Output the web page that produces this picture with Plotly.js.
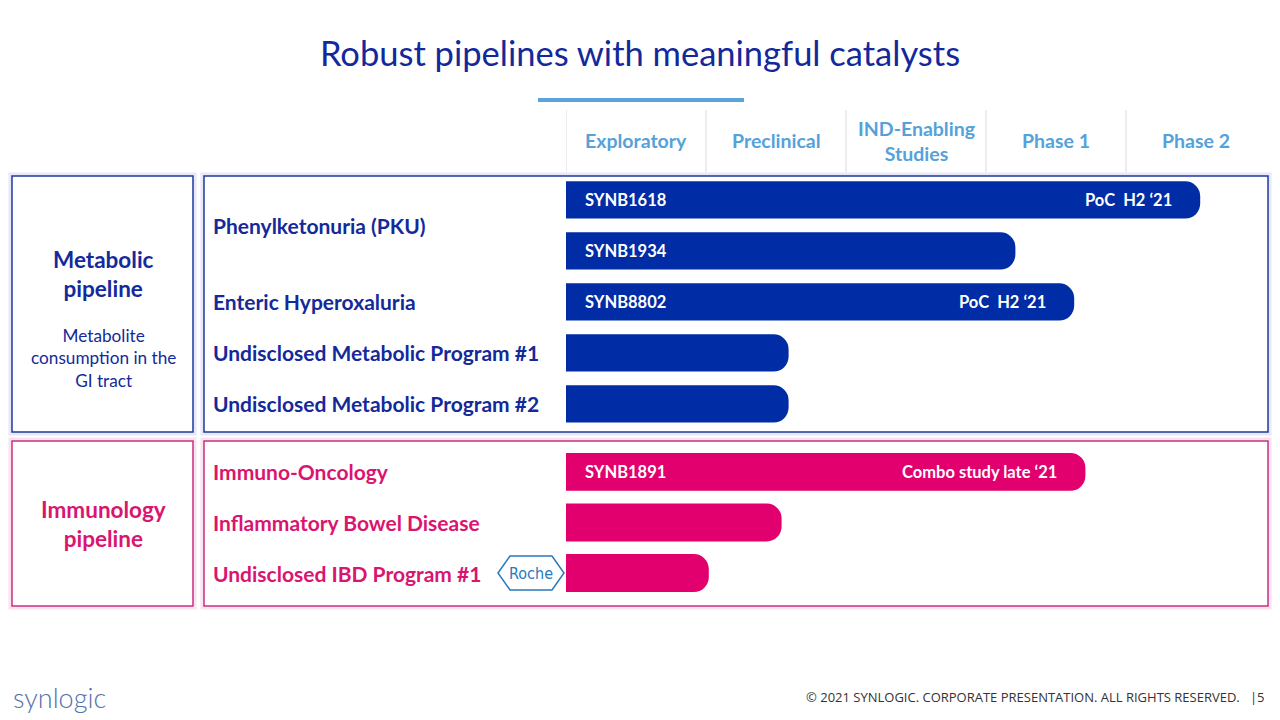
<!DOCTYPE html>
<html>
<head>
<meta charset="utf-8">
<script src="https://cdn.plot.ly/plotly-3.0.1.min.js"></script>
<style>html,body{margin:0;padding:0;background:#fff;}#chart{width:1280px;height:720px;}</style>
</head>
<body>
<div id="chart"></div>
<script>
// ---- data ----
const phases = ["Exploratory", "Preclinical", "IND-Enabling<br>Studies", "Phase 1", "Phase 2"];

const metabolicRows = ["SYNB1618", "SYNB1934", "SYNB8802", "Metabolic #1", "Metabolic #2"];
const metabolicDrugs = ["SYNB1618", "SYNB1934", "SYNB8802", "", ""];
const metabolicProgress = [4.53, 3.21, 3.63, 1.59, 1.59];
const metabolicCatalysts = ["PoC  H2 \u201821", "", "PoC  H2 \u201821", "", ""];
const metabolicIndications = ["Phenylketonuria (PKU)", "Enteric Hyperoxaluria", "Undisclosed Metabolic Program #1", "Undisclosed Metabolic Program #2"];
const metabolicIndicationRows = [[0, 1], [2], [3], [4]];

const immunoRows = ["SYNB1891", "IBD", "IBD #1"];
const immunoDrugs = ["SYNB1891", "", ""];
const immunoProgress = [3.71, 1.54, 1.02];
const immunoCatalysts = ["Combo study late \u201821", "", ""];
const immunoIndications = ["Immuno-Oncology", "Inflammatory Bowel Disease", "Undisclosed IBD Program #1"];
const immunoIndicationRows = [[0], [1], [2]];

const pipelineNames = ["Metabolic<br>pipeline", "Immunology<br>pipeline"];
const pipelineNote = "Metabolite<br>consumption in the<br>GI tract";
const partnerName = "Roche";

// ---- helpers ----
const W = 1280, H = 720;
const P = x => x / W;
const Q = y => 1 - y / H;
const BLUE = "#002CA6", PINK = "#E2006F", DARK = "#14299A", MAG = "#D9156F", LIGHT = "#55A2DA";
const FONT = "Lato, 'Open Sans', sans-serif";
const mean = a => a.reduce((s, v) => s + v, 0) / a.length;

const traces = [
  {type: "bar", orientation: "h", x: metabolicProgress, y: metabolicRows, xaxis: "x", yaxis: "y",
   width: 0.73, marker: {color: BLUE, cornerradius: 15, line: {width: 0}}, hoverinfo: "skip"},
  {type: "bar", orientation: "h", x: immunoProgress, y: immunoRows, xaxis: "x", yaxis: "y2",
   width: 0.75, marker: {color: PINK, cornerradius: 15, line: {width: 0}}, hoverinfo: "skip"}
];

const annotations = [];
const shapes = [];

// phase headers and separators
phases.forEach((p, i) => {
  annotations.push({xref: "x", yref: "paper", x: i + 0.5, y: Q(141), text: "<b>" + p + "</b>",
    showarrow: false, xanchor: "center", yanchor: "middle",
    font: {family: FONT, size: 19.5, color: LIGHT}});
  shapes.push({type: "line", xref: "x", yref: "paper", x0: i, x1: i, y0: Q(110), y1: Q(172),
    line: {color: "#DADADA", width: 1}});
});

// bar inner labels
function barLabels(drugs, progress, catalysts, yref) {
  drugs.forEach((d, i) => {
    if (d) annotations.push({xref: "x", yref: yref, x: 0, y: i, text: "<b>" + d + "</b>", showarrow: false,
      xanchor: "left", yanchor: "middle", xshift: 17, font: {family: FONT, size: 16.5, color: "#FFFFFF"}});
    if (catalysts[i]) annotations.push({xref: "x", yref: yref, x: progress[i], y: i, text: "<b>" + catalysts[i] + "</b>",
      showarrow: false, xanchor: "right", yanchor: "middle", xshift: -26, font: {family: FONT, size: 16.5, color: "#FFFFFF"}});
  });
}
barLabels(metabolicDrugs, metabolicProgress, metabolicCatalysts, "y");
barLabels(immunoDrugs, immunoProgress, immunoCatalysts, "y2");

// indication labels
function indLabels(names, rows, yref, color) {
  names.forEach((n, i) => {
    annotations.push({xref: "paper", yref: yref, x: P(211), y: mean(rows[i]), text: "<b>" + n + "</b>",
      showarrow: false, xanchor: "left", yanchor: "middle", yshift: 0,
      font: {family: FONT, size: 21, color: color}});
  });
}
indLabels(metabolicIndications, metabolicIndicationRows, "y", DARK);
indLabels(immunoIndications, immunoIndicationRows, "y2", MAG);

// left pipeline panels
annotations.push({xref: "paper", yref: "paper", x: P(103), y: Q(274), text: "<b>" + pipelineNames[0] + "</b>",
  showarrow: false, xanchor: "center", yanchor: "middle", font: {family: FONT, size: 22.5, color: DARK}});
annotations.push({xref: "paper", yref: "paper", x: P(103), y: Q(358), text: pipelineNote,
  showarrow: false, xanchor: "center", yanchor: "middle", font: {family: FONT, size: 17.2, color: DARK}});
annotations.push({xref: "paper", yref: "paper", x: P(103), y: Q(524), text: "<b>" + pipelineNames[1] + "</b>",
  showarrow: false, xanchor: "center", yanchor: "middle", font: {family: FONT, size: 22.5, color: MAG}});

// boxes with soft glow
function box(x0, y0, x1, y1, color, glow) {
  shapes.push({type: "rect", xref: "paper", yref: "paper", x0: P(x0), x1: P(x1), y0: Q(y1), y1: Q(y0),
    line: {color: glow, width: 7}, layer: "below"});
  shapes.push({type: "rect", xref: "paper", yref: "paper", x0: P(x0), x1: P(x1), y0: Q(y1), y1: Q(y0),
    line: {color: color, width: 1.5}, fillcolor: "#FFFFFF", layer: "below"});
}
box(12, 176, 193, 432, "#1E3A9A", "rgba(150,150,235,0.22)");
box(204, 176, 1268, 432, "#1E3A9A", "rgba(150,150,235,0.22)");
box(12, 441, 193, 606, "#C9307F", "rgba(235,140,200,0.25)");
box(204, 441, 1268, 606, "#C9307F", "rgba(235,140,200,0.25)");

// accent under title
shapes.push({type: "line", xref: "paper", yref: "paper", x0: P(538), x1: P(744), y0: Q(100), y1: Q(100),
  line: {color: "#5BA3D9", width: 4}});

// Roche logo
const hx = [498, 510, 552, 564, 552, 510];
const hy = [573, 556, 556, 573, 590, 590];
let path = "";
hx.forEach((x, i) => { path += (i ? " L " : "M ") + P(x) + "," + Q(hy[i]); });
path += " Z";
shapes.push({type: "path", xref: "paper", yref: "paper", path: path, line: {color: "#2A78BE", width: 1.5}});
annotations.push({xref: "paper", yref: "paper", x: P(531), y: Q(573), text: partnerName, showarrow: false,
  xanchor: "center", yanchor: "middle", font: {family: "'DejaVu Sans Condensed', 'DejaVu Sans', sans-serif", size: 16, color: "#2A78BE"}});

// footer
annotations.push({xref: "paper", yref: "paper", x: P(11), y: Q(697), text: "synlogic", showarrow: false,
  xanchor: "left", yanchor: "middle", font: {family: FONT, size: 27, color: "#5670AA", weight: 300}});
annotations.push({xref: "paper", yref: "paper", x: P(1266), y: Q(697),
  text: "\u00A9 2021 SYNLOGIC. CORPORATE PRESENTATION. ALL RIGHTS RESERVED.&nbsp;&nbsp;&nbsp;|5", showarrow: false,
  xanchor: "right", yanchor: "middle", font: {family: "'Open Sans', sans-serif", size: 13, color: "#333333"}});

const layout = {
  width: W, height: H,
  margin: {l: 0, r: 0, t: 0, b: 0},
  paper_bgcolor: "#FFFFFF", plot_bgcolor: "rgba(0,0,0,0)",
  showlegend: false,
  title: {text: "Robust pipelines with meaningful catalysts", x: 0.5, xanchor: "center", y: Q(54), yanchor: "middle",
    font: {family: FONT, size: 34.5, color: "#13299B"}},
  xaxis: {domain: [P(566), P(1266)], range: [0, 5], showgrid: false, zeroline: false, showticklabels: false, showline: false, fixedrange: true},
  yaxis: {domain: [Q(432), Q(176)], type: "category", categoryorder: "array", categoryarray: metabolicRows,
    range: [4.55, -0.47], showgrid: false, zeroline: false, showticklabels: false, showline: false, anchor: "x"},
  yaxis2: {domain: [Q(606), Q(441)], type: "category", categoryorder: "array", categoryarray: immunoRows,
    range: [2.65, -0.61], showgrid: false, zeroline: false, showticklabels: false, showline: false, anchor: "x"},
  shapes: shapes,
  annotations: annotations
};

Plotly.newPlot("chart", traces, layout, {displayModeBar: false, staticPlot: true});
</script>
</body>
</html>
